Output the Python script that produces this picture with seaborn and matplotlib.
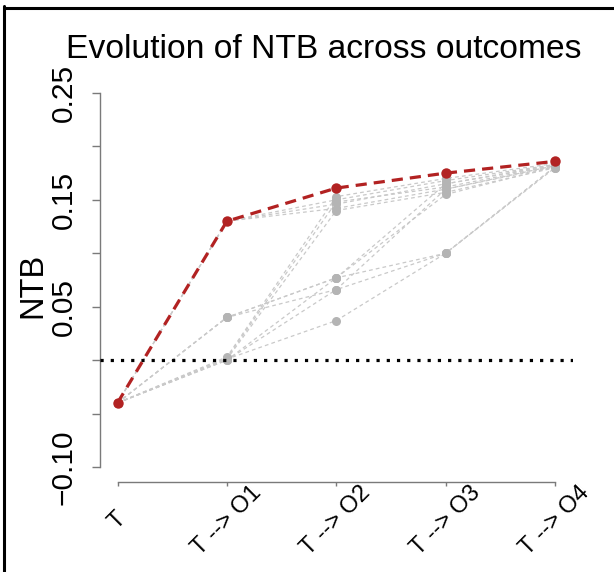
import matplotlib
matplotlib.use("Agg")
import matplotlib.pyplot as plt
import seaborn as sns
import pandas as pd
from matplotlib.lines import Line2D

# ---- data ----
steps = ["T", "T --> O1", "T --> O2", "T --> O3", "T --> O4"]
best_path = [-0.040, 0.130, 0.161, 0.175, 0.186]
gray_paths = [
    [-0.040, 0.130, 0.150, 0.168, 0.183],
    [-0.040, 0.130, 0.146, 0.165, 0.182],
    [-0.040, 0.130, 0.142, 0.160, 0.181],
    [-0.040, 0.040, 0.077, 0.165, 0.183],
    [-0.040, 0.040, 0.066, 0.100, 0.181],
    [-0.040, 0.003, 0.153, 0.170, 0.184],
    [-0.040, 0.002, 0.148, 0.162, 0.182],
    [-0.040, 0.001, 0.140, 0.157, 0.180],
    [-0.040, 0.000, 0.077, 0.155, 0.181],
    [-0.040, 0.000, 0.066, 0.160, 0.182],
    [-0.040, 0.001, 0.037, 0.100, 0.180],
    [-0.040, 0.040, 0.077, 0.100, 0.181],
]
yticks = [-0.10, -0.05, 0.00, 0.05, 0.10, 0.15, 0.20, 0.25]
ytick_labels = ["\u22120.10", "", "", "0.05", "", "0.15", "", "0.25"]
reference_line = 0.0

RED = "#B22222"
GRAY_PT = "#b4b4b4"
GRAY_LN = "#c9c9c9"
AXIS_C = "#7a7a7a"

sns.set_theme(style="white")
plt.rcParams["font.family"] = ["Liberation Sans", "DejaVu Sans"]

rows = []
for i, p in enumerate(gray_paths):
    for j, v in enumerate(p):
        rows.append({"path": i, "pos": j, "NTB": v})
gray_df = pd.DataFrame(rows)
best_df = pd.DataFrame({"pos": list(range(len(steps))), "NTB": best_path})

fig = plt.figure(figsize=(6.14, 5.72), dpi=100)
ax = fig.add_axes([100/614, 1-482/572, 472.5/614, 404/572])

sns.lineplot(data=gray_df, x="pos", y="NTB", units="path", estimator=None,
             color=GRAY_LN, lw=0.9, linestyle=(0, (3, 2.5)), marker="o",
             markersize=6.5, markerfacecolor=GRAY_PT, markeredgewidth=0,
             ax=ax, legend=False, zorder=2)
ax.axhline(reference_line, color="black", lw=2.3, linestyle=(0, (1, 2.2)),
           dash_capstyle="butt", zorder=3)
sns.lineplot(data=best_df, x="pos", y="NTB", estimator=None,
             color=RED, lw=2.3, linestyle=(0, (3.5, 2.2)), marker="o",
             markersize=7.5, markerfacecolor=RED, markeredgewidth=0,
             ax=ax, legend=False, zorder=4)

ax.set_xlim(-0.16, 4.16)
ax.set_ylim(-0.114, 0.264)
ax.set_xlabel("")
ax.set_ylabel("")

for s in ["top", "right"]:
    ax.spines[s].set_visible(False)
for s in ["left", "bottom"]:
    ax.spines[s].set_color(AXIS_C)
    ax.spines[s].set_linewidth(1.0)
ax.spines["left"].set_bounds(-0.10, 0.25)
ax.spines["bottom"].set_bounds(0, 4)

ax.set_yticks(yticks)
ax.set_yticklabels(ytick_labels, rotation=90, va="center", ha="right",
                   fontsize=21.5)
ax.tick_params(axis="y", length=6, width=1, color=AXIS_C, pad=10,
               left=True, labelcolor="black")
ax.set_xticks(range(len(steps)))
ax.set_xticklabels(steps, rotation=45, ha="center", va="center",
                   rotation_mode="anchor", fontsize=17)
ax.tick_params(axis="x", length=3, width=1, color=AXIS_C, pad=25,
               bottom=True, labelcolor="black")

fig.text(324/614, 1-58/572, "Evolution of NTB across outcomes",
         ha="center", va="baseline", fontsize=24.2, color="black")
fig.text(33/614, 1-285/572, "NTB", rotation=90, ha="center", va="center",
         fontsize=23.5, color="black")

# outer frame (top and left edges of the screenshot border)
fig.add_artist(Line2D([4/614, 4/614], [0, 1-6/572], transform=fig.transFigure,
                      color="black", lw=2.2))
fig.add_artist(Line2D([4/614, 1], [1-7.5/572, 1-7.5/572], transform=fig.transFigure,
                      color="black", lw=2.2))

fig.savefig("out.png", dpi=100)
